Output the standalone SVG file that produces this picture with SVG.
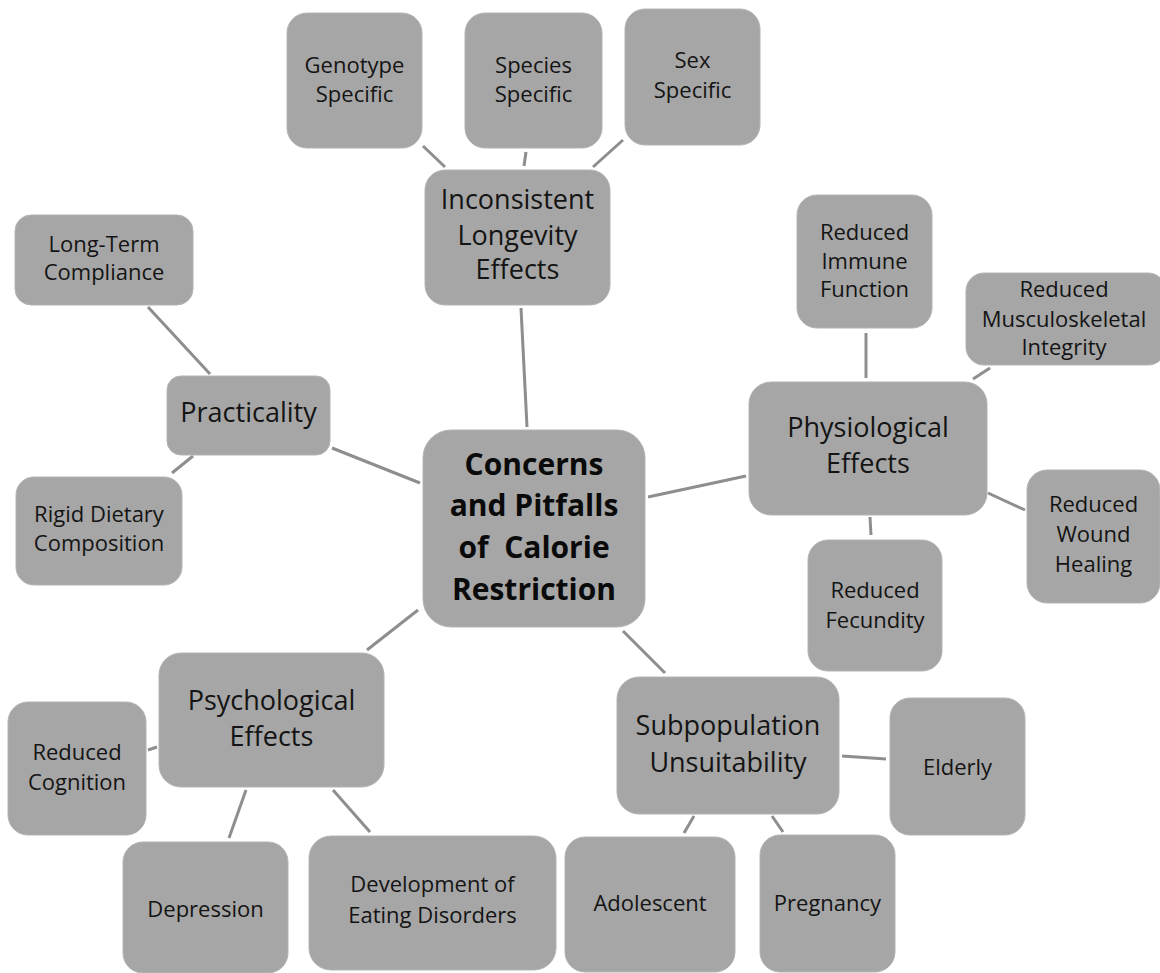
<svg xmlns="http://www.w3.org/2000/svg" width="1160" height="973" viewBox="0 0 1160 973">
<style>
.box{fill:#a6a6a6;stroke:#b4b4b4;stroke-width:1}
.t{font-family:"Open Sans","Noto Sans",sans-serif;fill:#141414;text-anchor:middle}
.s{font-size:22px}
.m{font-size:27px}
.c{font-size:30px;font-weight:bold;fill:#0a0a0a;white-space:pre}
.ln{stroke:#8e8e8e;stroke-width:3;fill:none;stroke-linecap:butt}
</style>
<rect width="1160" height="973" fill="#ffffff"/>
<g id="connectors" class="ln">
<line x1="423" y1="146" x2="445" y2="167"/>
<line x1="526" y1="152" x2="524" y2="166"/>
<line x1="623" y1="140" x2="593" y2="167"/>
<line x1="521" y1="308" x2="527" y2="427"/>
<line x1="148" y1="307" x2="210" y2="374"/>
<line x1="193" y1="456" x2="172" y2="473"/>
<line x1="332" y1="448" x2="420" y2="483"/>
<line x1="648" y1="497" x2="746" y2="476"/>
<line x1="866" y1="333" x2="866" y2="378"/>
<line x1="990" y1="368" x2="973" y2="379"/>
<line x1="988" y1="493" x2="1025" y2="510"/>
<line x1="870" y1="517" x2="871" y2="535"/>
<line x1="418" y1="610" x2="367" y2="650"/>
<line x1="148" y1="750" x2="157" y2="747"/>
<line x1="246" y1="790" x2="229" y2="838"/>
<line x1="333" y1="790" x2="370" y2="832"/>
<line x1="623" y1="631" x2="665" y2="673"/>
<line x1="842" y1="756" x2="886" y2="759"/>
<line x1="694" y1="816" x2="684" y2="833"/>
<line x1="772" y1="816" x2="783" y2="832"/>
</g>
<g id="n-genotype"><rect class="box" x="287" y="13" width="135" height="135" rx="20"/><text class="t s"><tspan x="354.5" y="73">Genotype</tspan><tspan x="354.5" y="102">Specific</tspan></text></g>
<g id="n-species"><rect class="box" x="465" y="13" width="137" height="135" rx="20"/><text class="t s"><tspan x="533.5" y="73">Species</tspan><tspan x="533.5" y="102">Specific</tspan></text></g>
<g id="n-sex"><rect class="box" x="625" y="9" width="135" height="136" rx="20"/><text class="t s"><tspan x="692.5" y="68">Sex</tspan><tspan x="692.5" y="98">Specific</tspan></text></g>
<g id="n-inconsistent"><rect class="box" x="425" y="170" width="185" height="135" rx="20"/><text class="t m"><tspan x="517.5" y="209">Inconsistent</tspan><tspan x="517.5" y="245">Longevity</tspan><tspan x="517.5" y="279">Effects</tspan></text></g>
<g id="n-center"><rect class="box" x="423" y="430" width="222" height="197" rx="28"/><text class="t c"><tspan x="534" y="475">Concerns</tspan><tspan x="534" y="516">and Pitfalls</tspan><tspan x="534" y="558">of  Calorie</tspan><tspan x="534" y="600">Restriction</tspan></text></g>
<g id="n-immune"><rect class="box" x="797" y="195" width="135" height="133" rx="20"/><text class="t s"><tspan x="864.5" y="240">Reduced</tspan><tspan x="864.5" y="269">Immune</tspan><tspan x="864.5" y="297">Function</tspan></text></g>
<g id="n-musculo"><rect class="box" x="966" y="273" width="200" height="92" rx="18"/><text class="t s"><tspan x="1064" y="297">Reduced</tspan><tspan x="1064" y="327">Musculoskeletal</tspan><tspan x="1064" y="355">Integrity</tspan></text></g>
<g id="n-physiological"><rect class="box" x="749" y="382" width="238" height="133" rx="22"/><text class="t m"><tspan x="868" y="437">Physiological</tspan><tspan x="868" y="473">Effects</tspan></text></g>
<g id="n-wound"><rect class="box" x="1027" y="470" width="133" height="133" rx="20"/><text class="t s"><tspan x="1093.5" y="512">Reduced</tspan><tspan x="1093.5" y="542">Wound</tspan><tspan x="1093.5" y="572">Healing</tspan></text></g>
<g id="n-fecundity"><rect class="box" x="808" y="540" width="134" height="131" rx="20"/><text class="t s"><tspan x="875" y="598">Reduced</tspan><tspan x="875" y="628">Fecundity</tspan></text></g>
<g id="n-longterm"><rect class="box" x="15" y="215" width="178" height="90" rx="16"/><text class="t s"><tspan x="104" y="252">Long-Term</tspan><tspan x="104" y="280">Compliance</tspan></text></g>
<g id="n-practicality"><rect class="box" x="167" y="376" width="163" height="79" rx="14"/><text class="t m"><tspan x="248.5" y="422">Practicality</tspan></text></g>
<g id="n-rigid"><rect class="box" x="16" y="477" width="166" height="108" rx="18"/><text class="t s"><tspan x="99" y="522">Rigid Dietary</tspan><tspan x="99" y="551">Composition</tspan></text></g>
<g id="n-psychological"><rect class="box" x="159" y="653" width="225" height="134" rx="22"/><text class="t m"><tspan x="271.5" y="710">Psychological</tspan><tspan x="271.5" y="746">Effects</tspan></text></g>
<g id="n-cognition"><rect class="box" x="8" y="702" width="138" height="133" rx="20"/><text class="t s"><tspan x="77" y="760">Reduced</tspan><tspan x="77" y="790">Cognition</tspan></text></g>
<g id="n-depression"><rect class="box" x="123" y="842" width="165" height="131" rx="20"/><text class="t s"><tspan x="205.5" y="917">Depression</tspan></text></g>
<g id="n-development"><rect class="box" x="309" y="836" width="247" height="134" rx="22"/><text class="t s"><tspan x="432.5" y="892">Development of</tspan><tspan x="432.5" y="923">Eating Disorders</tspan></text></g>
<g id="n-subpopulation"><rect class="box" x="617" y="677" width="222" height="137" rx="22"/><text class="t m"><tspan x="728" y="735">Subpopulation</tspan><tspan x="728" y="772">Unsuitability</tspan></text></g>
<g id="n-elderly"><rect class="box" x="890" y="698" width="135" height="137" rx="20"/><text class="t s"><tspan x="957.5" y="775">Elderly</tspan></text></g>
<g id="n-adolescent"><rect class="box" x="565" y="837" width="170" height="135" rx="20"/><text class="t s"><tspan x="650" y="911">Adolescent</tspan></text></g>
<g id="n-pregnancy"><rect class="box" x="760" y="835" width="135" height="137" rx="20"/><text class="t s"><tspan x="827.5" y="911">Pregnancy</tspan></text></g>
</svg>
